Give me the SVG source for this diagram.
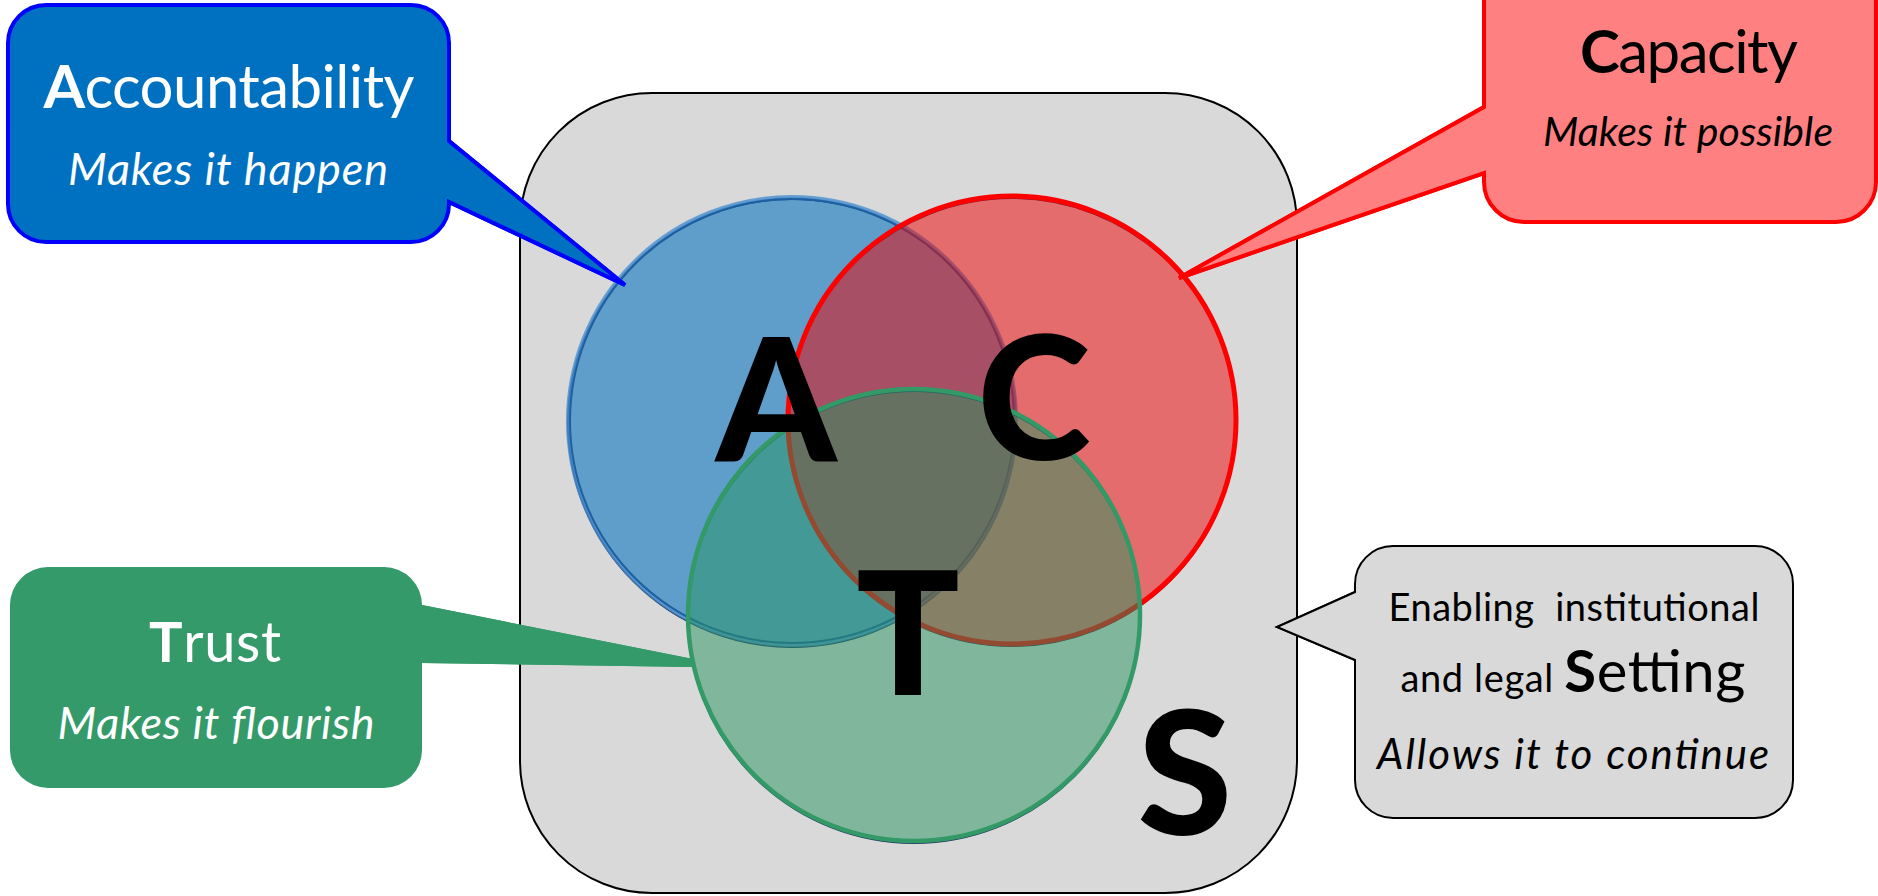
<svg xmlns="http://www.w3.org/2000/svg" width="1878" height="896" viewBox="0 0 1878 896">
<style>
  text { font-family: Lato, "Open Sans", "Liberation Sans", sans-serif; text-anchor: middle; }
  .b { font-weight: 700; }
  .it { font-style: italic; }
  .big { font-size: 172px; font-weight: 900; fill: #000; }
  .w { fill: #fff; }
  .k { fill: #000; }
  .shadow { fill: none; stroke: #1F3864; stroke-width: 2; }
</style>
<rect width="1878" height="896" fill="#fff"/>
<g id="setting-frame">
  <rect x="520" y="93" width="777" height="800" rx="132" ry="132" fill="#D9D9D9" stroke="#000" stroke-width="2"/>
</g>
<g id="connectors">
  <path id="tail-accountability" d="M449,141 L625,285 L449,202" fill="#0070C0" stroke="#0000FF" stroke-width="4"/>
  <path id="tail-capacity" d="M1484,107 L1179,278 L1484,173" fill="#FF8080" stroke="#FF0000" stroke-width="4"/>
  <path id="tail-trust" d="M422,605 L693,659 L693,667 L422,663" fill="#359A69"/>
  <path id="tail-setting" d="M1355,592 L1277,627 L1355,660" fill="#D9D9D9" stroke="#000" stroke-width="2"/>
</g>
<g id="circle-A">
  <circle class="shadow" cx="792" cy="423" r="224"/>
  <circle cx="792" cy="421" r="224" fill="#0070C0" fill-opacity="0.56" stroke="#4A8ED0" stroke-width="4" stroke-opacity="0.8"/>
  <circle cx="792" cy="421" r="222" fill="none" stroke="#1F5F9F" stroke-width="2"/>
</g>
<g id="circle-C">
  <circle class="shadow" cx="1012" cy="422" r="224"/>
  <circle cx="1012" cy="420" r="224" fill="#EF0000" fill-opacity="0.5" stroke="#FF0000" stroke-width="5"/>
</g>
<g id="circle-T">
  <circle class="shadow" cx="914" cy="617" r="226"/>
  <circle cx="914" cy="615" r="226" fill="#28935F" fill-opacity="0.5" stroke="#339966" stroke-width="4.5"/>
</g>
<g id="letters">
  <text class="big" x="776" y="461">A</text>
  <text class="big" x="1034" y="460">C</text>
  <text class="big" x="908" y="695">T</text>
  <text class="big" x="1185" y="835">S</text>
</g>
<g id="node-accountability">
  <path d="M46,5 H411 A38,38 0 0 1 449,43 V141 L625,285 L449,202 V204 A38,38 0 0 1 411,242 H46 A38,38 0 0 1 8,204 V43 A38,38 0 0 1 46,5 Z" fill="#0070C0" stroke="#0000FF" stroke-width="4" stroke-linejoin="miter"/>
  <text class="w" x="229" y="108" font-size="60" textLength="371"><tspan class="b">A</tspan>ccountability</text>
  <text class="w it" x="228" y="185" font-size="45" textLength="320">Makes it happen</text>
</g>
<g id="node-capacity">
  <path d="M1484,-40 H1876 V182 A40,40 0 0 1 1836,222 H1524 A40,40 0 0 1 1484,182 V173 L1179,278 L1484,107 Z" fill="#FF8080" stroke="#FF0000" stroke-width="4"/>
  <text class="k" x="1689" y="73" font-size="60" textLength="218"><tspan class="b">C</tspan>apacity</text>
  <text class="k it" x="1688" y="146" font-size="41" textLength="290">Makes it possible</text>
</g>
<g id="node-trust">
  <path d="M48,567 H384 A38,38 0 0 1 422,605 L693,659 L693,667 L422,663 V750 A38,38 0 0 1 384,788 H48 A38,38 0 0 1 10,750 V605 A38,38 0 0 1 48,567 Z" fill="#359A69"/>
  <text class="w" x="215" y="662" font-size="56" textLength="132"><tspan class="b">T</tspan>rust</text>
  <text class="w it" x="216" y="739" font-size="45" textLength="317">Makes it flourish</text>
</g>
<g id="node-setting">
  <path d="M1393,546 H1755 A38,38 0 0 1 1793,584 V780 A38,38 0 0 1 1755,818 H1393 A38,38 0 0 1 1355,780 V660 L1277,627 L1355,592 V584 A38,38 0 0 1 1393,546 Z" fill="#D9D9D9" stroke="#000" stroke-width="2"/>
  <text class="k" x="1574" y="621" font-size="38" textLength="371" style="white-space:pre">Enabling  institutional</text>
  <text class="k" x="1573" y="692" font-size="38" textLength="345">and legal <tspan font-size="58"><tspan class="b">S</tspan>etting</tspan></text>
  <text class="k it" x="1573" y="769" font-size="42" textLength="392">Allows it to continue</text>
</g>
</svg>
